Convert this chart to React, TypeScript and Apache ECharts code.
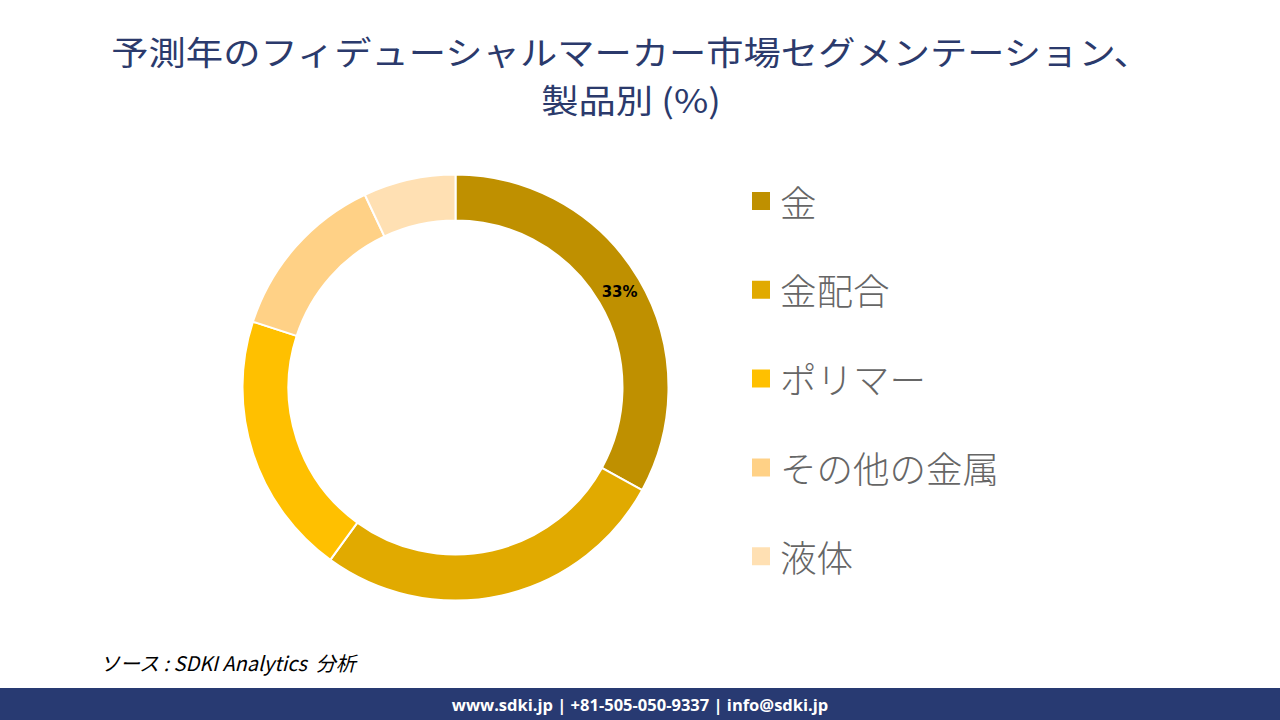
import React, { useEffect, useRef } from "react";
import * as echarts from "echarts";

const categories = ["金", "金配合", "ポリマー", "その他の金属", "液体"];
const shares = [33, 27, 20, 13, 7];
const colors = ["#BF9000", "#E1AA00", "#FFC000", "#FFD186", "#FFE0B3"];
const titleLines = ["予測年のフィデューシャルマーカー市場セグメンテーション、", "製品別 (%)"];
const sourceText = "ソース : SDKI Analytics  分析";
const footerText = "www.sdki.jp | +81-505-050-9337 | info@sdki.jp";

export default function App() {
  const ref = useRef<HTMLDivElement>(null);
  useEffect(() => {
    if (!ref.current) return;
    const chart = echarts.init(ref.current, undefined, { renderer: "svg" });
    chart.setOption({
      animation: false,
      backgroundColor: "#ffffff",
      legend: {
        orient: "vertical",
        left: 750,
        top: 181,
        padding: 0,
        icon: "rect",
        itemWidth: 20,
        itemHeight: 20,
        itemGap: 48.8,
        data: categories,
        textStyle: {
          fontFamily: "'Noto Sans CJK JP', sans-serif",
          fontWeight: 300,
          fontSize: 36.5,
          lineHeight: 40,
          color: "#666666",
          padding: [0, 0, 0, 4],
        },
        selectedMode: false,
      },
      series: [
        {
          type: "pie",
          center: [455.5, 387.5],
          radius: [167, 213],
          startAngle: 90,
          clockwise: true,
          avoidLabelOverlap: false,
          itemStyle: { borderColor: "#ffffff", borderWidth: 2 },
          label: { show: false },
          labelLine: { show: false },
          emphasis: { disabled: true },
          data: categories.map((name, i) => ({
            name,
            value: shares[i],
            itemStyle: { color: colors[i] },
            label:
              i === 0
                ? {
                    show: true,
                    position: "inside",
                    formatter: "{c}%",
                    fontFamily: "'DejaVu Sans', sans-serif",
                    fontWeight: "bold",
                    fontSize: 15,
                    color: "#000000",
                    offset: [-2, 3],
                  }
                : { show: false },
          })),
        },
      ],
      graphic: [
        ...titleLines.map((t, i) => ({
          type: "text",
          x: 631,
          y: 50 + i * 48,
          scaleX: 1.13,
          scaleY: 1,
          style: {
            text: t,
            font: "33px 'Noto Sans CJK JP', sans-serif",
            fill: "#2B3A6C",
            align: "center",
            verticalAlign: "middle",
          },
        })),
        {
          type: "text",
          x: 100,
          y: 662,
          style: {
            text: sourceText,
            font: "italic 20px 'Liberation Sans Narrow', 'Noto Sans CJK JP', sans-serif",
            fill: "#000000",
            verticalAlign: "middle",
          },
        },
        {
          type: "rect",
          shape: { x: 0, y: 688, width: 1280, height: 32 },
          style: { fill: "#283A72" },
        },
        {
          type: "text",
          x: 640,
          y: 704,
          style: {
            text: footerText,
            font: "bold 16.5px 'Open Sans', sans-serif",
            fill: "#ffffff",
            align: "center",
            verticalAlign: "middle",
          },
        },
      ],
    });
    return () => chart.dispose();
  }, []);
  return (
    <div
      ref={ref}
      style={{ position: "fixed", left: 0, top: 0, width: 1280, height: 720 }}
    />
  );
}
